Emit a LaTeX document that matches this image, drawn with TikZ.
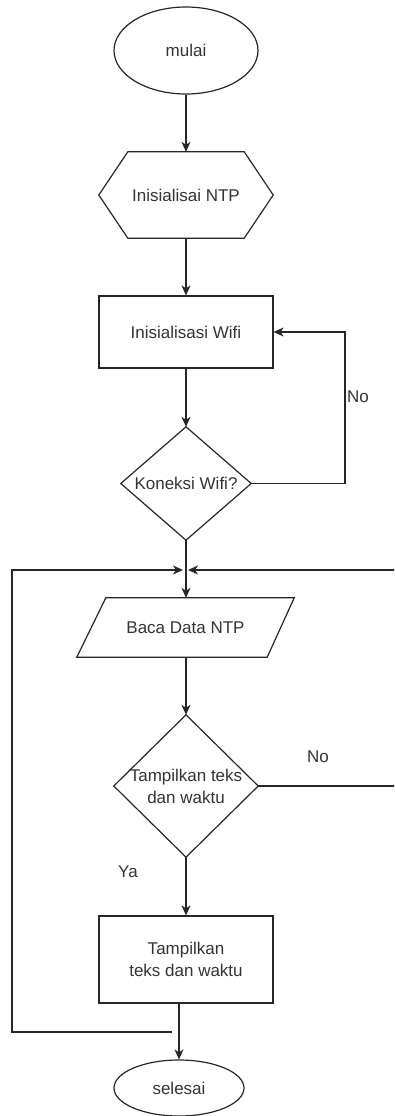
\documentclass[tikz,border=0pt]{standalone}
\usepackage{fontspec}
\setmainfont{Liberation Sans}
\usetikzlibrary{shapes.geometric,arrows.meta,calc}
\begin{document}
\begin{tikzpicture}[x=1pt,y=-1pt,
  lw/.style={line width=1.2pt, draw=black!85},
  txt/.style={font=\fontsize{17}{22}\selectfont, text=black!80, align=center},
  term/.style={ellipse, lw, txt, inner sep=0pt},
  box/.style={rectangle, lw, txt, inner sep=0pt, minimum width=174pt},
  ghost/.style={rectangle, draw=none, txt, inner sep=0pt},
  arr/.style={lw, -{Stealth[length=10pt,width=9pt,inset=3pt]}},
  lbl/.style={font=\fontsize{17}{22}\selectfont, text=black!80}]
\useasboundingbox (0,0) rectangle (394,1116);
\clip (0,0) rectangle (394,1116);

% nodes
\node[term, minimum width=144pt, minimum height=87pt] (mulai) at (186,50.5) {mulai};
\node[ghost, minimum width=174pt, minimum height=86pt] (ntp) at (186,195) {Inisialisai NTP};
\draw[lw] (ntp.west) -- ([xshift=29pt]ntp.north west) -- ([xshift=-29pt]ntp.north east)
  -- (ntp.east) -- ([xshift=-29pt]ntp.south east) -- ([xshift=29pt]ntp.south west) -- cycle;
\node[box, minimum height=72pt] (wifi) at (186,332) {Inisialisasi Wifi};
\node[ghost, minimum width=130pt, minimum height=113pt] (d1) at (186,483.5) {Koneksi Wifi?};
\draw[lw] (d1.north) -- (d1.east) -- (d1.south) -- (d1.west) -- cycle;
\node[ghost, minimum width=217pt, minimum height=59pt] (baca) at (185.5,627.5) {Baca Data NTP};
\draw[lw] ([xshift=29pt]baca.north west) -- (baca.north east) -- ([xshift=-27pt]baca.south east)
  -- (baca.south west) -- cycle;
\node[ghost, minimum width=144pt, minimum height=142pt] (d2) at (186,786) {Tampilkan teks\\dan waktu};
\draw[lw] (d2.north) -- (d2.east) -- (d2.south) -- (d2.west) -- cycle;
\node[box, minimum height=87pt] (t3) at (186,959.5) {Tampilkan\\teks dan waktu};
\node[term, minimum width=130pt, minimum height=56pt] (sel) at (179,1088) {selesai};

% helper coordinates
\coordinate (j) at (186,570);
\coordinate (noX) at (345,0);
\coordinate (rX) at (398,0);
\coordinate (lX) at (12,0);
\coordinate (lS) at (172,1032);

% connectors
\draw[arr] (mulai.south) -- (ntp.north);
\draw[arr] (ntp.south) -- (wifi.north);
\draw[arr] (wifi.south) -- (d1.north);
\draw[arr] (d1.east) -- (d1.east -| noX) |- (wifi.east);
\draw[arr] (d1.south) -- (baca.north -| d1.south);
\draw[arr] (baca.south -| d2.north) -- (d2.north);
\draw[lw] (d2.east) -- (d2.east -| rX) -- (rX |- j) -- ([xshift=12pt]j);
\draw[arr] ([xshift=12pt]j) -- ([xshift=2pt]j);
\draw[arr] (lS) -- (lS -| lX) -- (lX |- j) -- ([xshift=-3pt]j);
\draw[arr] (d2.south) -- (t3.north);
\draw[arr] (t3.south -| sel.north) -- (sel.north);

% labels
\node[lbl] (no1) at (358,397) {No};
\node[lbl] (no2) at (318,757) {No};
\node[lbl] (ya) at (128,872) {Ya};
\end{tikzpicture}
\end{document}
